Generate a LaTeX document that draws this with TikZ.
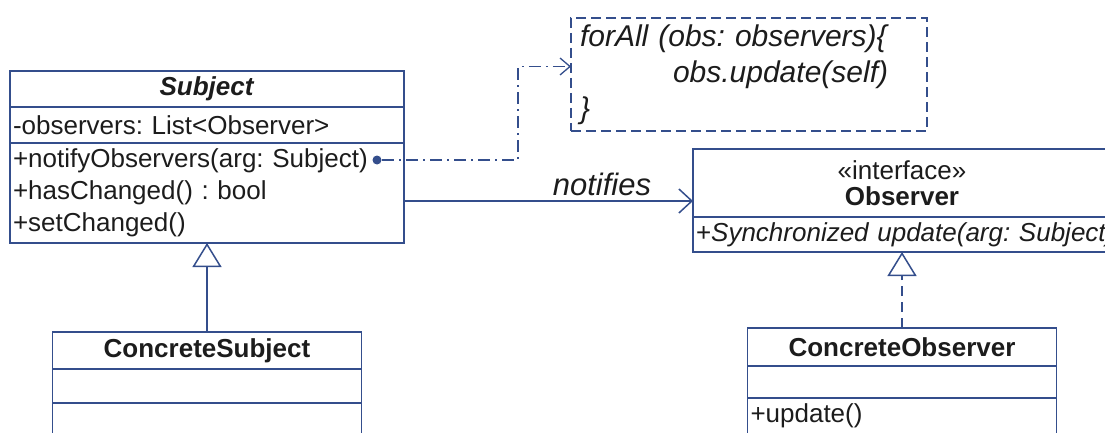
\documentclass[tikz,border=0pt]{standalone}
\usepackage{fontspec}
\setmainfont{Liberation Sans}
\usepackage{tikz}
\usetikzlibrary{arrows.meta, positioning}
\definecolor{umlblue}{RGB}{52,78,140}
\definecolor{ink}{RGB}{28,28,28}
\frenchspacing

\begin{document}
\begin{tikzpicture}[x=1pt, y=-1pt, line width=1.5pt,
    compart/.style={draw=umlblue, inner xsep=3pt, inner ysep=0pt, outer sep=0pt,
        text=ink, font=\fontsize{26}{32}\selectfont},
    members/.style={compart, align=left},
    realize/.style={draw=umlblue, dash pattern=on 10pt off 6pt},
    dashdotline/.style={draw=umlblue, line width=1.3pt, dash pattern=on 12pt off 5pt on 2pt off 5pt},
    gen/.style={-{Triangle[open, fill=white, length=24pt, width=29pt]}}]
    \useasboundingbox (0,0) rectangle (1105,433);

    % Subject class
    \node[compart, anchor=north west, minimum width=394pt, minimum height=36pt] (subj) at (10,71) {\textbf{\textit{Subject}}};
    \node[members, text width=388pt, minimum height=36pt, below=0pt of subj] (subj-attr) {-observers: List<Observer>};
    \node[members, text width=388pt, minimum height=100pt, below=0pt of subj-attr] (subj-meth)
        {+notifyObservers(arg: Subject)\\+hasChanged() : bool\\+setChanged()};
    \node[circle, fill=umlblue, inner sep=0pt, minimum size=9pt] (dot) at (377,160) {};

    % ConcreteSubject class
    \node[compart, minimum width=309pt, minimum height=37pt, below=89pt of subj-meth] (csub) {\textbf{ConcreteSubject}};
    \node[compart, minimum width=309pt, minimum height=34pt, below=0pt of csub] (csub-attr) {};
    \node[compart, minimum width=309pt, minimum height=50pt, below=0pt of csub-attr] (csub-meth) {};

    % Note
    \node[draw=umlblue, dash pattern=on 10pt off 5pt, anchor=north west, minimum width=356pt, minimum height=113pt,
        inner xsep=9pt, inner ysep=0pt, outer sep=0pt, text width=338pt, align=left, text=ink,
        font=\fontsize{30}{36}\selectfont\itshape] (note) at (571,18)
        {forAll (obs: observers)\{\\\hspace*{93pt}obs.update(self)\\\}};

    % Observer interface
    \node[compart, anchor=north west, minimum width=418pt, minimum height=68pt, align=center,
        font=\fontsize{26}{26}\selectfont] (obs) at (693,149) {«interface»\\\textbf{Observer}};
    \node[members, text width=412pt, minimum height=35pt, below=0pt of obs] (obs-meth)
        {\mbox{+\textit{Synchronized update(arg: Subject)}}};

    % ConcreteObserver class
    \node[compart, minimum width=309pt, minimum height=38pt, below=76pt of obs-meth] (cobs) {\textbf{ConcreteObserver}};
    \node[compart, minimum width=309pt, minimum height=32pt, below=0pt of cobs] (cobs-attr) {};
    \node[members, text width=303pt, minimum height=36pt, below=0pt of cobs-attr] (cobs-meth) {+update()};

    % Connectors
    \draw[dashdotline, -{Straight Barb[length=10pt, width=17pt]}] (dot) -- ++(141,0) |- ([yshift=8pt]note.west);
    \draw[umlblue, -{Straight Barb[length=13pt, width=24pt]}] ([yshift=-8pt]subj-meth.east) coordinate (nstart)
        -- (obs.west |- nstart) node[pos=0.685, above, inner sep=4pt, text=ink, font=\fontsize{31}{31}\selectfont\itshape] (lbl) {notifies};
    \draw[umlblue, gen] (csub.north) -- (csub.north |- subj-meth.south);
    \draw[realize, gen] (cobs.north) -- (cobs.north |- obs-meth.south);
\end{tikzpicture}
\end{document}
